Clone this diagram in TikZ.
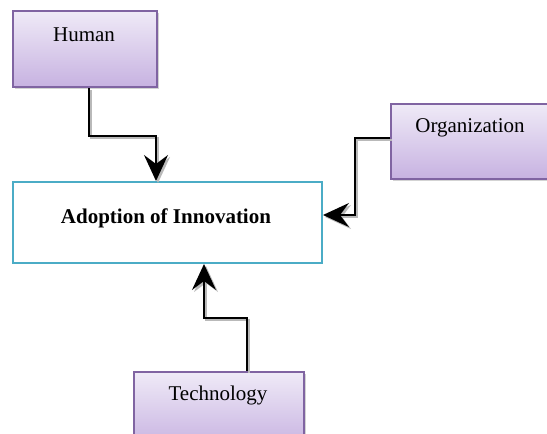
\documentclass[tikz,border=0pt]{standalone}
\usepackage{fontspec}
\setmainfont{Liberation Serif}
\usetikzlibrary{arrows.meta,shadows,calc}
\definecolor{boxtop}{HTML}{EFEAF7}
\definecolor{boxbot}{HTML}{C7B2E1}
\definecolor{boxline}{HTML}{8064A2}
\definecolor{mainline}{HTML}{4BACC6}
\tikzset{
  factor/.style={draw=boxline, line width=2pt, top color=boxtop, bottom color=boxbot,
    rectangle, inner sep=0pt, drop shadow={shadow xshift=2pt, shadow yshift=-2pt, opacity=0.35}},
  mainbox/.style={draw=mainline, line width=2pt, fill=white, rectangle, inner sep=0pt},
  lbl/.style={font=\fontsize{21}{24}\selectfont, inner sep=0pt},
  tip/.style={-{Stealth[length=26pt,width=24pt,inset=9pt]}},
  conn/.style={line width=2pt, black, tip,
    preaction={draw, gray!55, line width=2pt, transform canvas={shift={(2pt,-2pt)}}, tip}}
}
\begin{document}
\begin{tikzpicture}[x=1pt,y=-1pt]
\useasboundingbox (0,0) rectangle (547,434);
% boxes
\node[factor, minimum width=144pt, minimum height=76pt, anchor=north west] (human) at (12,10) {};
\node[factor, minimum width=160pt, minimum height=75pt, anchor=north west] (org) at (390,103) {};
\node[factor, minimum width=170pt, minimum height=76pt, anchor=north west] (tech) at (133,371) {};
\node[mainbox, minimum width=309pt, minimum height=81pt, anchor=north west] (main) at (12,181) {};
% texts
\node[lbl] (humant) at (84,35) {Human};
\node[lbl] (orgt) at (470,128) {Organization};
\node[lbl] (techt) at (218,395) {Technology};
\node[lbl, font=\fontsize{21}{24}\selectfont\bfseries] (maint) at (166,218) {Adoption of Innovation};
% connectors
\draw[conn] ([xshift=4pt]human.south) -- ++(0,48) -| ([xshift=-11.5pt]main.north);
\draw[conn] ([yshift=3.5pt]org.west) -- ++(-35,0) |- ([yshift=7.5pt]main.east);
\draw[conn] ([xshift=28pt]tech.north) -- ++(0,-53) -| ([xshift=36.5pt]main.south);
\end{tikzpicture}
\end{document}
